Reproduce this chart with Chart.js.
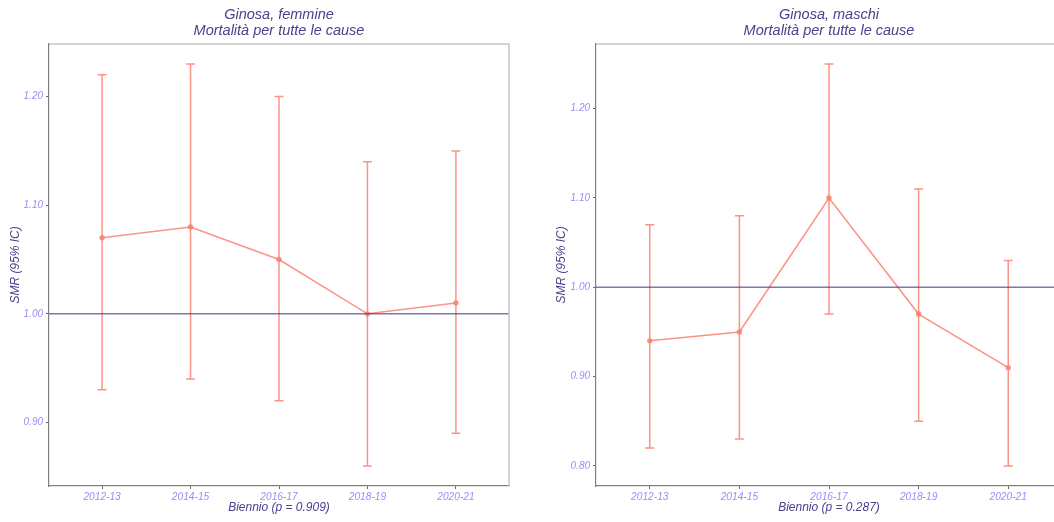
<!DOCTYPE html>
<html>
<head>
<meta charset="utf-8">
<script src="https://cdn.jsdelivr.net/npm/chart.js@4/dist/chart.umd.min.js"></script>
<style>
  html, body { margin: 0; padding: 0; background: #ffffff; overflow: hidden; }
  #wrap { position: relative; width: 1054px; height: 522px; overflow: hidden; }
  canvas { position: absolute; top: 0; }
  #cF { left: 0; }
  #cM { left: 530px; }
</style>
</head>
<body>
<div id="wrap">
  <canvas id="cF" width="530" height="522" style="width:530px;height:522px"></canvas>
  <canvas id="cM" width="540" height="522" style="width:540px;height:522px"></canvas>
</div>
<script>
// Bienni and SMR with 95% confidence interval, Ginosa, all-cause mortality
const bienni = ['2012-13', '2014-15', '2016-17', '2018-19', '2020-21'];

const smrFemmine   = [1.07, 1.08, 1.05, 1.00, 1.01];
const icInfFemmine = [0.93, 0.94, 0.92, 0.86, 0.89];
const icSupFemmine = [1.22, 1.23, 1.20, 1.14, 1.15];

const smrMaschi    = [0.94, 0.95, 1.10, 0.97, 0.91];
const icInfMaschi  = [0.82, 0.83, 0.97, 0.85, 0.80];
const icSupMaschi  = [1.07, 1.08, 1.25, 1.11, 1.03];

const tickFemmine = [0.90, 1.00, 1.10, 1.20];
const tickMaschi  = [0.80, 0.90, 1.00, 1.10, 1.20];

const riferimento = 1.00;
const pFemmine = '0.909';
const pMaschi = '0.287';

// style
const FONT = "'Liberation Sans', Arial, sans-serif";
const SALMON = 'rgba(250, 128, 114, 0.85)';
const REF_LINE = 'rgba(72, 61, 139, 0.7)';
const TITLE_COL = '#4a428c';
const TICK_COL = '#a08cf6';
const CAP = 0.05;           // half width of the error bar caps, in category units
const X_MIN = 0.4, X_MAX = bienni.length + 0.6;

// light grey frame on the top and right of the panel
const panelFrame = {
  id: 'panelFrame',
  afterDatasetsDraw(chart) {
    const { ctx, chartArea: a } = chart;
    ctx.save();
    ctx.strokeStyle = '#c6c6c6';
    ctx.lineWidth = 1.5;
    ctx.beginPath();
    ctx.moveTo(a.left, a.top);
    ctx.lineTo(a.right, a.top);
    ctx.lineTo(a.right, a.bottom);
    ctx.stroke();
    ctx.restore();
  }
};

function errorBarPoints(lo, hi) {
  const pts = [];
  lo.forEach((l, i) => {
    const x = i + 1, h = hi[i];
    pts.push({ x: x - CAP, y: h }, { x: x + CAP, y: h }, { x: x, y: null });
    pts.push({ x: x, y: h }, { x: x, y: l }, { x: x, y: null });
    pts.push({ x: x - CAP, y: l }, { x: x + CAP, y: l }, { x: x, y: null });
  });
  return pts;
}

function makeChart(id, cfg) {
  const yLo = Math.min(...cfg.lo), yHi = Math.max(...cfg.hi);
  const pad = (yHi - yLo) * 0.05;
  return new Chart(document.getElementById(id), {
    type: 'scatter',
    data: {
      datasets: [
        {
          label: 'riferimento',
          data: [{ x: X_MIN, y: riferimento }, { x: X_MAX, y: riferimento }],
          showLine: true, borderColor: REF_LINE, borderWidth: 1.5,
          pointRadius: 0, order: 0
        },
        {
          label: 'SMR',
          data: cfg.smr.map((v, i) => ({ x: i + 1, y: v })),
          showLine: true, borderColor: SALMON, borderWidth: 1.5,
          pointRadius: 2.7, pointBackgroundColor: SALMON, pointBorderWidth: 0,
          order: 1
        },
        {
          label: 'IC 95%',
          data: errorBarPoints(cfg.lo, cfg.hi),
          showLine: true, spanGaps: false, borderColor: SALMON, borderWidth: 1.5,
          pointRadius: 0, order: 2
        }
      ]
    },
    options: {
      responsive: false,
      devicePixelRatio: 1,
      animation: false,
      events: [],
      layout: { padding: { left: 0, right: cfg.padRight, top: 0, bottom: 0 } },
      plugins: {
        legend: { display: false },
        tooltip: { enabled: false },
        title: {
          display: true,
          fullSize: false,
          text: cfg.title,
          color: TITLE_COL,
          font: { family: FONT, size: 14.5, style: 'italic', weight: 'normal', lineHeight: 1.1 },
          padding: { top: 7, bottom: 5 }
        }
      },
      scales: {
        x: {
          type: 'linear', min: X_MIN, max: X_MAX,
          afterBuildTicks: s => { s.ticks = bienni.map((_, i) => ({ value: i + 1 })); },
          afterFit: s => { s.height = 36; },
          ticks: {
            callback: v => bienni[v - 1],
            color: TICK_COL, padding: 2, maxRotation: 0,
            font: { family: FONT, size: 10.2, style: 'italic' }
          },
          grid: { drawOnChartArea: false, drawTicks: true, tickLength: 3, tickColor: '#666666' },
          border: { display: true, color: '#808080', width: 1.2 },
          title: {
            display: true, text: 'Biennio (p = ' + cfg.p + ')', color: TITLE_COL,
            font: { family: FONT, size: 12, style: 'italic' }, padding: { top: 0, bottom: 7 }
          }
        },
        y: {
          type: 'linear', min: yLo - pad, max: yHi + pad,
          afterBuildTicks: s => { s.ticks = cfg.ticks.map(v => ({ value: v })); },
          afterFit: s => { s.width = cfg.yWidth; },
          ticks: {
            callback: v => v.toFixed(2),
            color: TICK_COL, padding: 3,
            font: { family: FONT, size: 10, style: 'italic' }
          },
          grid: { drawOnChartArea: false, drawTicks: true, tickLength: 3, tickColor: '#666666' },
          border: { display: true, color: '#808080', width: 1.2 },
          title: {
            display: true, text: 'SMR (95% IC)', color: TITLE_COL,
            font: { family: FONT, size: 12, style: 'italic' }, padding: { top: cfg.yTitlePad, bottom: 0 }
          }
        }
      }
    },
    plugins: [panelFrame]
  });
}

makeChart('cF', {
  title: ['Ginosa, femmine', 'Mortalità per tutte le cause'],
  smr: smrFemmine, lo: icInfFemmine, hi: icSupFemmine,
  ticks: tickFemmine, p: pFemmine,
  yWidth: 49, yTitlePad: 8, padRight: 21
});

makeChart('cM', {
  title: ['Ginosa, maschi', 'Mortalità per tutte le cause'],
  smr: smrMaschi, lo: icInfMaschi, hi: icSupMaschi,
  ticks: tickMaschi, p: pMaschi,
  yWidth: 66, yTitlePad: 24.5, padRight: 8
});
</script>
</body>
</html>
